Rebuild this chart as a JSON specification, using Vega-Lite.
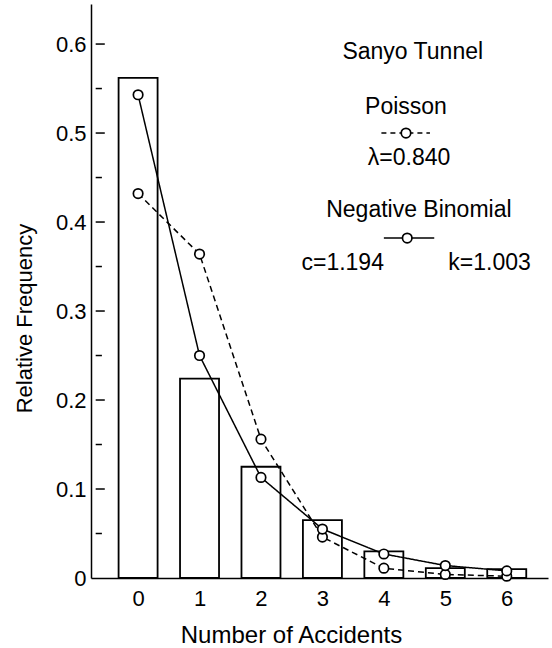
{
  "$schema": "https://vega.github.io/schema/vega-lite/v6.json",
  "width": 457,
  "height": 574,
  "autosize": {"type": "none"},
  "padding": {"left": 91, "top": 4, "right": 4, "bottom": 70},
  "background": "white",
  "config": {
    "view": {"stroke": null},
    "font": "Liberation Sans",
    "axis": {"grid": false, "domainColor": "black", "domainWidth": 1.5, "labelColor": "black", "titleColor": "black", "labelFont": "Liberation Sans", "titleFont": "Liberation Sans", "titleFontWeight": "normal"}
  },
  "datasets": {
    "bars": [
      {"k": 0, "freq": 0.562},
      {"k": 1, "freq": 0.224},
      {"k": 2, "freq": 0.125},
      {"k": 3, "freq": 0.065},
      {"k": 4, "freq": 0.030},
      {"k": 5, "freq": 0.011},
      {"k": 6, "freq": 0.010}
    ],
    "fits": [
      {"k": 0, "model": "Poisson", "p": 0.432},
      {"k": 1, "model": "Poisson", "p": 0.364},
      {"k": 2, "model": "Poisson", "p": 0.156},
      {"k": 3, "model": "Poisson", "p": 0.046},
      {"k": 4, "model": "Poisson", "p": 0.011},
      {"k": 5, "model": "Poisson", "p": 0.004},
      {"k": 6, "model": "Poisson", "p": 0.002},
      {"k": 0, "model": "Negative Binomial", "p": 0.543},
      {"k": 1, "model": "Negative Binomial", "p": 0.250},
      {"k": 2, "model": "Negative Binomial", "p": 0.113},
      {"k": 3, "model": "Negative Binomial", "p": 0.055},
      {"k": 4, "model": "Negative Binomial", "p": 0.027},
      {"k": 5, "model": "Negative Binomial", "p": 0.014},
      {"k": 6, "model": "Negative Binomial", "p": 0.008}
    ],
    "yticks": [
      {"v": 0.05, "kind": "minor"},
      {"v": 0.1, "kind": "major"},
      {"v": 0.15, "kind": "minor"},
      {"v": 0.2, "kind": "major"},
      {"v": 0.25, "kind": "minor"},
      {"v": 0.3, "kind": "major"},
      {"v": 0.35, "kind": "minor"},
      {"v": 0.4, "kind": "major"},
      {"v": 0.45, "kind": "minor"},
      {"v": 0.5, "kind": "major"},
      {"v": 0.55, "kind": "minor"},
      {"v": 0.6, "kind": "major"}
    ],
    "legendSymbols": [
      {"model": "Poisson", "x1": 3.96, "x2": 4.75, "xc": 4.36, "y": 0.500},
      {"model": "Negative Binomial", "x1": 4.00, "x2": 4.82, "xc": 4.38, "y": 0.382}
    ],
    "legendText": [
      {"tx": 4.47, "ty": 0.591, "label": "Sanyo Tunnel"},
      {"tx": 4.36, "ty": 0.529, "label": "Poisson"},
      {"tx": 4.41, "ty": 0.472, "label": "λ=0.840"},
      {"tx": 4.57, "ty": 0.413, "label": "Negative Binomial"},
      {"tx": 3.33, "ty": 0.354, "label": "c=1.194"},
      {"tx": 5.72, "ty": 0.354, "label": "k=1.003"}
    ]
  },
  "layer": [
    {
      "data": {"name": "bars"},
      "mark": {"type": "bar", "width": 39, "fill": "white", "stroke": "black", "strokeWidth": 1.8},
      "encoding": {
        "x": {
          "field": "k", "type": "quantitative",
          "scale": {"domain": [-0.685, 6.59], "nice": false, "zero": false},
          "axis": {
            "values": [0, 1, 2, 3, 4, 5, 6], "format": "d", "ticks": false,
            "labelFontSize": 22, "labelPadding": 10,
            "title": "Number of Accidents", "titleFontSize": 24,
            "titleX": 200, "titleY": 57, "titleBaseline": "middle", "titleAlign": "center", "titleAnchor": null
          }
        },
        "y": {
          "field": "freq", "type": "quantitative",
          "scale": {"domain": [0, 0.645], "nice": false},
          "axis": {
            "values": [0, 0.1, 0.2, 0.3, 0.4, 0.5, 0.6],
            "labelExpr": "datum.value == 0 ? '0' : format(datum.value, '.1f')",
            "ticks": false,
            "labelFontSize": 22, "labelPadding": 5,
            "title": "Relative Frequency", "titleFontSize": 22,
            "titleX": -67, "titleY": 314, "titleAngle": -90, "titleBaseline": "middle", "titleAlign": "center", "titleAnchor": null
          }
        }
      }
    },
    {
      "data": {"name": "yticks"},
      "transform": [{"filter": "datum.kind == 'major'"}],
      "mark": {"type": "rule", "color": "black", "strokeWidth": 1.5},
      "encoding": {
        "y": {"field": "v", "type": "quantitative"},
        "x": {"datum": -0.69, "type": "quantitative"},
        "x2": {"datum": -0.542}
      }
    },
    {
      "data": {"name": "yticks"},
      "transform": [{"filter": "datum.kind == 'minor'"}],
      "mark": {"type": "rule", "color": "black", "strokeWidth": 1.5},
      "encoding": {
        "y": {"field": "v", "type": "quantitative"},
        "x": {"datum": -0.69, "type": "quantitative"},
        "x2": {"datum": -0.589}
      }
    },
    {
      "data": {"name": "fits"},
      "mark": {"type": "line", "color": "black", "strokeWidth": 1.5},
      "encoding": {
        "x": {"field": "k", "type": "quantitative"},
        "y": {"field": "p", "type": "quantitative"},
        "detail": {"field": "model"},
        "strokeDash": {"field": "model", "type": "nominal", "scale": {"domain": ["Negative Binomial", "Poisson"], "range": [[1, 0], [6, 4]]}, "legend": null}
      }
    },
    {
      "data": {"name": "fits"},
      "mark": {"type": "point", "shape": "circle", "size": 90, "filled": false, "fill": "white", "fillOpacity": 1, "stroke": "black", "strokeWidth": 1.7, "opacity": 1},
      "encoding": {
        "x": {"field": "k", "type": "quantitative"},
        "y": {"field": "p", "type": "quantitative"}
      }
    },
    {
      "data": {"name": "legendSymbols"},
      "transform": [{"filter": "datum.model == 'Poisson'"}],
      "mark": {"type": "rule", "color": "black", "strokeWidth": 1.5, "strokeDash": [5, 4]},
      "encoding": {
        "x": {"field": "x1", "type": "quantitative"},
        "x2": {"field": "x2"},
        "y": {"field": "y", "type": "quantitative"}
      }
    },
    {
      "data": {"name": "legendSymbols"},
      "transform": [{"filter": "datum.model == 'Negative Binomial'"}],
      "mark": {"type": "rule", "color": "black", "strokeWidth": 1.5},
      "encoding": {
        "x": {"field": "x1", "type": "quantitative"},
        "x2": {"field": "x2"},
        "y": {"field": "y", "type": "quantitative"}
      }
    },
    {
      "data": {"name": "legendSymbols"},
      "mark": {"type": "point", "shape": "circle", "size": 90, "filled": false, "fill": "white", "fillOpacity": 1, "stroke": "black", "strokeWidth": 1.7, "opacity": 1},
      "encoding": {
        "x": {"field": "xc", "type": "quantitative"},
        "y": {"field": "y", "type": "quantitative"}
      }
    },
    {
      "data": {"name": "legendText"},
      "mark": {"type": "text", "fontSize": 23, "align": "center", "baseline": "middle", "color": "black", "font": "Liberation Sans"},
      "encoding": {
        "x": {"field": "tx", "type": "quantitative"},
        "y": {"field": "ty", "type": "quantitative"},
        "text": {"field": "label"}
      }
    }
  ]
}
